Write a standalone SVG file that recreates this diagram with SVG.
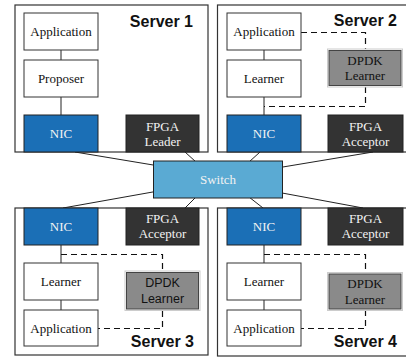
<svg xmlns="http://www.w3.org/2000/svg" width="406" height="358" viewBox="0 0 406 358">
  <style>
    .server { fill: #ffffff; stroke: #333333; stroke-width: 1.2; }
    .box { fill: #ffffff; stroke: #333333; stroke-width: 1; }
    .nic { fill: #1b6fb6; stroke: #222222; stroke-width: 1; }
    .fpga { fill: #333333; stroke: #222222; stroke-width: 1; }
    .dpdk { fill: #8a8a8a; stroke: #444444; stroke-width: 1; }
    .dpdk-outer { fill: none; stroke: #cccccc; stroke-width: 1; }
    .switch { fill: #5aaad3; stroke: #222222; stroke-width: 1; }
    .rm { font-family: "Liberation Serif", "DejaVu Serif", serif; font-size: 13px; text-anchor: middle; fill: #111111; }
    .sf { font-family: "Liberation Sans", "DejaVu Sans", sans-serif; font-size: 12.5px; text-anchor: middle; fill: #111111; }
    .light { fill: #f2f2f2; }
    .title { font-family: "Liberation Sans", "DejaVu Sans", sans-serif; font-size: 16px; font-weight: bold; text-anchor: end; fill: #111111; }
    .link { stroke: #222222; stroke-width: 1; fill: none; }
    .dash { stroke: #111111; stroke-width: 1.2; fill: none; stroke-dasharray: 6 4; }
  </style>

  <!-- server enclosures -->
  <g id="server1"><rect class="server" x="15" y="5" width="193" height="147"/><text class="title" x="193" y="27">Server 1</text></g>
  <g id="server2"><rect class="server" x="217.5" y="5" width="200" height="147"/><text class="title" x="397" y="26">Server 2</text></g>
  <g id="server3"><rect class="server" x="15" y="208" width="193" height="147"/><text class="title" x="194" y="347">Server 3</text></g>
  <g id="server4"><rect class="server" x="217.5" y="208" width="200" height="148"/><text class="title" x="397" y="347">Server 4</text></g>

  <!-- connectors -->
  <g id="connectors">
    <!-- network links to the switch -->
    <line class="link" x1="75" y1="152" x2="155" y2="165.3"/>
    <line class="link" x1="185" y1="152" x2="196" y2="162"/>
    <line class="link" x1="260" y1="152" x2="249" y2="162"/>
    <line class="link" x1="373" y1="152" x2="281" y2="167.3"/>
    <line class="link" x1="63" y1="208" x2="155" y2="191.6"/>
    <line class="link" x1="185" y1="208" x2="196" y2="197"/>
    <line class="link" x1="263" y1="208" x2="249" y2="197"/>
    <line class="link" x1="363" y1="208" x2="281" y2="192.8"/>
    <!-- in-host stack links -->
    <path class="link" d="M61,50 V60 M61,97 V115"/>
    <path class="link" d="M264,50 V60 M264,97 V115"/>
    <path class="link" d="M61,245 V263 M61,300 V310"/>
    <path class="link" d="M264,245 V263 M264,300 V310"/>
    <!-- DPDK bypass paths -->
    <path class="dash" d="M301,32.5 H365.5 V49"/>
    <path class="dash" d="M365.5,87 V106.5 H264"/>
    <path class="dash" d="M61,254.5 H162.5 V271"/>
    <path class="dash" d="M162.5,311 V328.5 H98"/>
    <path class="dash" d="M264,254.5 H365.5 V273"/>
    <path class="dash" d="M365.5,310 V328.5 H301"/>
  </g>

  <!-- Server 1 nodes -->
  <g id="s1-app"><rect class="box" x="24" y="13" width="74" height="37"/><text class="rm" x="61" y="36">Application</text></g>
  <g id="s1-proposer"><rect class="box" x="24" y="60" width="74" height="37"/><text class="rm" x="61" y="83">Proposer</text></g>
  <g id="s1-nic"><rect class="nic" x="24" y="115" width="74" height="37"/><text class="rm light" x="61" y="138">NIC</text></g>
  <g id="s1-fpga"><rect class="fpga" x="126" y="115" width="73" height="37"/><text class="rm light" x="162.5" y="130.5">FPGA</text><text class="rm light" x="162.5" y="145.5">Leader</text></g>

  <!-- Server 2 nodes -->
  <g id="s2-app"><rect class="box" x="227" y="13" width="74" height="37"/><text class="rm" x="264" y="36">Application</text></g>
  <g id="s2-learner"><rect class="box" x="227" y="60" width="74" height="37"/><text class="rm" x="264" y="83">Learner</text></g>
  <g id="s2-dpdk"><rect class="dpdk-outer" x="327.5" y="49" width="75" height="38"/><rect class="dpdk" x="329" y="50.5" width="72" height="35"/><text class="rm" x="365" y="64.5">DPDK</text><text class="rm" x="365" y="80">Learner</text></g>
  <g id="s2-nic"><rect class="nic" x="227" y="115" width="74" height="37"/><text class="rm light" x="264" y="138">NIC</text></g>
  <g id="s2-fpga"><rect class="fpga" x="328" y="115" width="75" height="37"/><text class="rm light" x="365.5" y="130.5">FPGA</text><text class="rm light" x="365.5" y="145.5">Acceptor</text></g>

  <!-- Switch -->
  <g id="switch"><rect class="switch" x="153.5" y="161" width="129" height="37"/><text class="rm light" x="218" y="184">Switch</text></g>

  <!-- Server 3 nodes -->
  <g id="s3-nic"><rect class="nic" x="24" y="208" width="74" height="37"/><text class="rm light" x="61" y="231">NIC</text></g>
  <g id="s3-fpga"><rect class="fpga" x="126" y="208" width="73" height="37"/><text class="rm light" x="162.5" y="223.3">FPGA</text><text class="rm light" x="162.5" y="238.3">Acceptor</text></g>
  <g id="s3-learner"><rect class="box" x="24" y="263" width="74" height="37"/><text class="rm" x="61" y="286">Learner</text></g>
  <g id="s3-dpdk"><rect class="dpdk-outer" x="125" y="271" width="75" height="39.5"/><rect class="dpdk" x="126.5" y="272.5" width="72" height="36.5"/><text class="sf" x="162.5" y="287">DPDK</text><text class="sf" x="162.5" y="303">Learner</text></g>
  <g id="s3-app"><rect class="box" x="24" y="310" width="74" height="36"/><text class="rm" x="61" y="332.5">Application</text></g>

  <!-- Server 4 nodes -->
  <g id="s4-nic"><rect class="nic" x="227" y="208" width="74" height="37"/><text class="rm light" x="264" y="231">NIC</text></g>
  <g id="s4-fpga"><rect class="fpga" x="328" y="208" width="75" height="37"/><text class="rm light" x="365.5" y="223.3">FPGA</text><text class="rm light" x="365.5" y="238.3">Acceptor</text></g>
  <g id="s4-learner"><rect class="box" x="227" y="263" width="74" height="37"/><text class="rm" x="264" y="286">Learner</text></g>
  <g id="s4-dpdk"><rect class="dpdk-outer" x="327.5" y="272.5" width="75" height="38"/><rect class="dpdk" x="329" y="274" width="72" height="35"/><text class="rm" x="365" y="288">DPDK</text><text class="rm" x="365" y="303.5">Learner</text></g>
  <g id="s4-app"><rect class="box" x="227" y="310" width="74" height="36"/><text class="rm" x="264" y="332.5">Application</text></g>
</svg>
